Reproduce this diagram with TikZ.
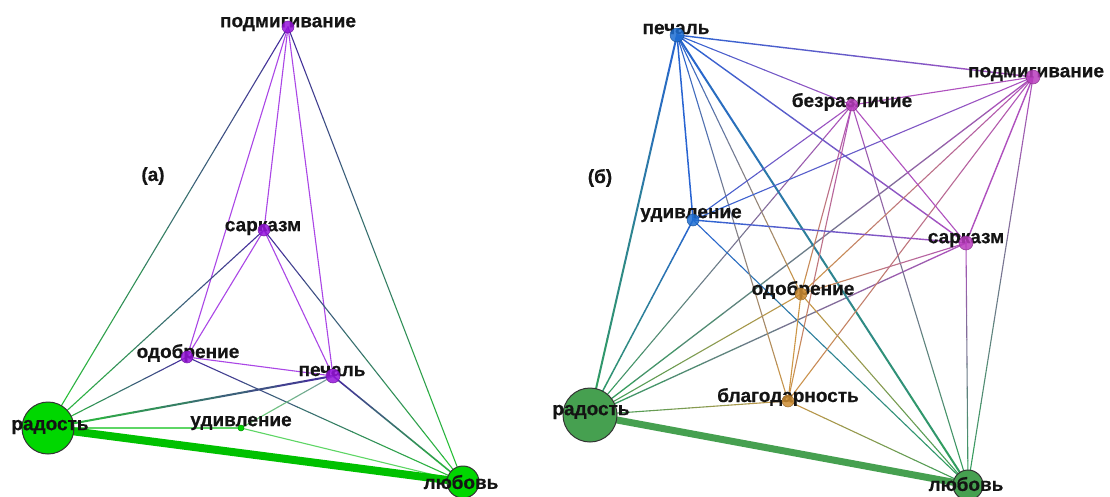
\documentclass[tikz,border=0pt]{standalone}
\usepackage{fontspec}
\setmainfont{Liberation Sans}
\newfontfamily\lblfont{Liberation Sans}[BoldFeatures={FakeBold=0.5}]
\usetikzlibrary{calc}
\definecolor{aG}{RGB}{0,215,0}
\definecolor{aP}{RGB}{150,20,220}
\definecolor{eaG}{RGB}{40,200,50}
\definecolor{eaP}{RGB}{70,40,160}
\definecolor{eaV}{RGB}{170,70,230}
\definecolor{bG}{RGB}{70,160,80}
\definecolor{bB}{RGB}{30,110,210}
\definecolor{bM}{RGB}{185,60,190}
\definecolor{bO}{RGB}{205,140,50}
\definecolor{ebG}{RGB}{50,160,90}
\definecolor{ebB}{RGB}{40,100,210}
\definecolor{ebM}{RGB}{175,80,190}
\definecolor{ebO}{RGB}{205,150,70}
\tikzset{
  lnk/.style={line width=1.1pt, line cap=round},
  dot/.style 2 args={circle, inner sep=0pt, minimum size=#2, fill=#1, draw=#1!70!black, line width=0.5pt},
  big/.style 2 args={circle, inner sep=0pt, minimum size=#2, fill=#1, draw=black!80, line width=1pt},
  lbl/.style={inner sep=0pt, font=\lblfont\bfseries\fontsize{19}{19}\selectfont, text=black!92},
}
% gradient connector: [options]{from}{to}{colour at from}{colour at to}
\newcommand{\gedge}[5][]{%
  \foreach \k in {0,...,9}{%
    \pgfmathtruncatemacro{\pc}{100-(\k+0.5)*10}%
    \draw[lnk,#1,draw=#4!\pc!#5] ($(#2)!\k/10!(#3)$) -- ($(#2)!\k/10+0.1!(#3)$);%
  }}
\begin{document}
\begin{tikzpicture}[x=1pt,y=-1pt]
\useasboundingbox[fill=white] (0,0) rectangle (1110,496);
% ---------------- (a) ----------------
\coordinate (aP) at (288,27);
\coordinate (aS) at (264,230);
\coordinate (aO) at (187,357);
\coordinate (aPe) at (333,376);
\coordinate (aU) at (241,428);
\coordinate (aR) at (48,428);
\coordinate (aL) at (463,482);
% edges
\gedge{aP}{aR}{eaP}{eaG}
\draw[lnk,draw=eaV] (aP) -- (aO);
\draw[lnk,draw=eaV] (aP) -- (aS);
\draw[lnk,draw=eaV] (aP) -- (aPe);
\gedge{aP}{aL}{eaP}{eaG}
\draw[lnk,draw=eaV] (aS) -- (aO);
\gedge{aS}{aR}{eaP}{eaG}
\draw[lnk,draw=eaV] (aS) -- (aPe);
\gedge{aS}{aL}{eaP}{eaG}
\draw[lnk,draw=eaV] (aO) -- (aPe);
\gedge{aO}{aR}{eaP}{eaG}
\gedge{aO}{aL}{eaP}{eaG}
\gedge[line width=2pt]{aPe}{aR}{eaP}{eaG}
\gedge{aPe}{aU}{eaP!60!eaG}{eaG!70!white}
\gedge[line width=1.6pt]{aPe}{aL}{eaP}{eaG}
\draw[lnk,draw=eaG!75!white] (aR) -- (aU);
\draw[lnk,draw=eaG!75!white] (aU) -- (aL);
\draw[draw=aG!90!black, line width=8pt] (aR) -- (aL);
% nodes
\node[big={aG}{52pt}] (naR) at (aR) {};
\node[big={aG}{32pt}] (naL) at (aL) {};
\node[lbl] (taP) at (288,24) {подмигивание};
\node[lbl] (taS) at (263,228) {сарказм};
\node[lbl] (taO) at (188,353) {одобрение};
\node[lbl] (taPe) at (332,371) {печаль};
\node[lbl] (taU) at (241,423) {удивление};
\node[lbl] (taR) at (50,427) {радость};
\node[lbl] (taL) at (461,482) {любовь};
\node[dot={aP}{12pt}, opacity=0.85] (naP) at (aP) {};
\node[dot={aP}{12pt}, opacity=0.85] (naS) at (aS) {};
\node[dot={aP}{12pt}, opacity=0.85] (naO) at (aO) {};
\node[dot={aP}{14pt}, opacity=0.85] (naPe) at (aPe) {};
\node[dot={aG}{6pt}] (naU) at (aU) {};
\node[lbl] (capA) at (153,176) {(а)};
% ---------------- (б) ----------------
\coordinate (bPe) at (677,35);
\coordinate (bPm) at (1033,77);
\coordinate (bB) at (852,105);
\coordinate (bU) at (693,220);
\coordinate (bS) at (966,243);
\coordinate (bO) at (801,294);
\coordinate (bG) at (788,401);
\coordinate (bR) at (590,415);
\coordinate (bL) at (968,485);
% edges
\gedge[line width=2pt]{bPe}{bR}{ebB}{ebG}
\gedge[line width=1.3pt]{bPm}{bR}{ebM}{ebG}
\gedge{bB}{bR}{ebM}{ebG}
\gedge[line width=1.5pt]{bU}{bR}{ebB}{ebG}
\gedge[line width=1.3pt]{bS}{bR}{ebM}{ebG}
\gedge{bO}{bR}{ebO}{ebG}
\gedge{bG}{bR}{ebO}{ebG}
\gedge[line width=2pt]{bPe}{bL}{ebB}{ebG}
\gedge{bPm}{bL}{ebM}{ebG}
\gedge{bB}{bL}{ebM}{ebG}
\gedge{bU}{bL}{ebB}{ebG}
\gedge{bS}{bL}{ebM}{ebG}
\gedge{bO}{bL}{ebO}{ebG}
\gedge{bG}{bL}{ebO}{ebG}
\gedge[line width=1.4pt]{bPe}{bPm}{ebB}{ebM}
\gedge{bPe}{bB}{ebB}{ebM}
\draw[lnk,line width=1.5pt,draw=ebB] (bPe) -- (bU);
\gedge[line width=1.4pt]{bPe}{bS}{ebB}{ebM}
\gedge{bPe}{bO}{ebB}{ebO}
\gedge{bPe}{bG}{ebB}{ebO}
\draw[lnk,draw=ebM] (bPm) -- (bB);
\gedge{bPm}{bU}{ebM}{ebB}
\draw[lnk,line width=1.4pt,draw=ebM] (bPm) -- (bS);
\gedge{bPm}{bO}{ebM}{ebO}
\gedge{bPm}{bG}{ebM}{ebO}
\gedge{bB}{bU}{ebM}{ebB}
\draw[lnk,draw=ebM] (bB) -- (bS);
\gedge{bB}{bO}{ebM}{ebO}
\gedge{bB}{bG}{ebM}{ebO}
\gedge[line width=1.4pt]{bU}{bS}{ebB}{ebM}
\gedge{bS}{bO}{ebM}{ebO}
\draw[lnk,draw=ebO] (bO) -- (bG);
\draw[draw=bG, line width=7pt] (bR) -- (bL);
% nodes
\node[big={bG}{54pt}] (nbR) at (bR) {};
\node[big={bG}{30pt}] (nbL) at (bL) {};
\node[lbl] (tbPe) at (676,29) {печаль};
\node[lbl] (tbPm) at (1036,74) {подмигивание};
\node[lbl] (tbB) at (852,102) {безразличие};
\node[lbl] (tbU) at (691,215) {удивление};
\node[lbl] (tbS) at (966,240) {сарказм};
\node[lbl] (tbO) at (803,290) {одобрение};
\node[lbl] (tbG) at (788,397) {благодарность};
\node[lbl] (tbR) at (591,412) {радость};
\node[lbl] (tbL) at (966,484) {любовь};
\node[dot={bB}{14pt}, opacity=0.85] (nbPe) at (bPe) {};
\node[dot={bM}{14pt}, opacity=0.85] (nbPm) at (bPm) {};
\node[dot={bM}{12pt}, opacity=0.85] (nbB) at (bB) {};
\node[dot={bB}{12pt}, opacity=0.85] (nbU) at (bU) {};
\node[dot={bM}{14pt}, opacity=0.85] (nbS) at (bS) {};
\node[dot={bO}{12pt}, opacity=0.85] (nbO) at (bO) {};
\node[dot={bO}{12pt}, opacity=0.85] (nbG) at (bG) {};
\node[lbl] (capB) at (600,178) {(б)};
\end{tikzpicture}
\end{document}
